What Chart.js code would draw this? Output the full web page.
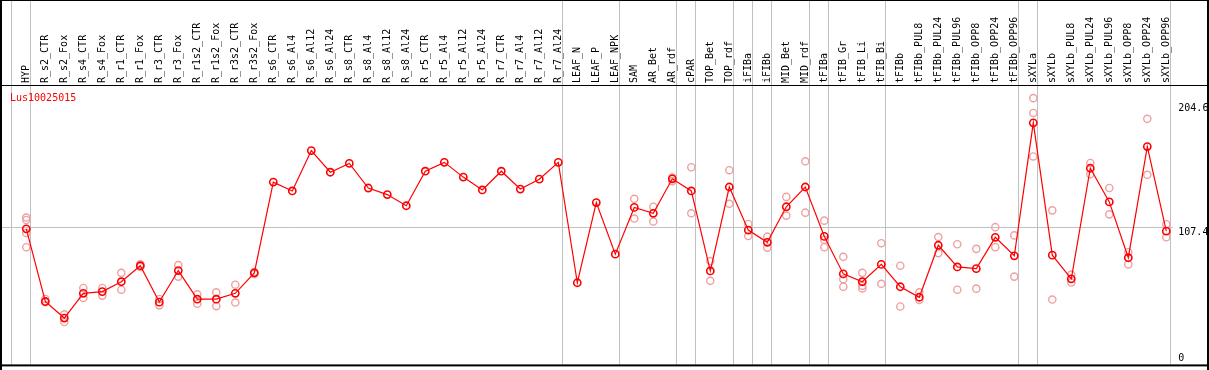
<!DOCTYPE html>
<html><head><meta charset="utf-8">
<script src="https://cdn.jsdelivr.net/npm/chart.js@4.4.1/dist/chart.umd.min.js"></script>
<style>html,body{margin:0;padding:0;background:#fff;}canvas{display:block;}</style>
</head><body>
<canvas id="c" width="1209" height="370"></canvas>
<script>
const seriesName = 'Lus10025015';
const categories = ['HYP','R_s2_CTR','R_s2_Fox','R_s4_CTR','R_s4_Fox','R_r1_CTR','R_r1_Fox','R_r3_CTR','R_r3_Fox','R_r1s2_CTR','R_r1s2_Fox','R_r3s2_CTR','R_r3s2_Fox','R_s6_CTR','R_s6_Al4','R_s6_Al12','R_s6_Al24','R_s8_CTR','R_s8_Al4','R_s8_Al12','R_s8_Al24','R_r5_CTR','R_r5_Al4','R_r5_Al12','R_r5_Al24','R_r7_CTR','R_r7_Al4','R_r7_Al12','R_r7_Al24','LEAF_N','LEAF_P','LEAF_NPK','SAM','AR_Bet','AR_rdf','cPAR','TOP_Bet','TOP_rdf','iFIBa','iFIBb','MID_Bet','MID_rdf','tFIBa','tFIB_Gr','tFIB_Li','tFIB_Bi','tFIBb','tFIBb_PUL8','tFIBb_PUL24','tFIBb_PUL96','tFIBb_OPP8','tFIBb_OPP24','tFIBb_OPP96','sXYLa','sXYLb','sXYLb_PUL8','sXYLb_PUL24','sXYLb_PUL96','sXYLb_OPP8','sXYLb_OPP24','sXYLb_OPP96'];
const meanValues = [105.6,49.0,36.1,55.4,56.7,64.4,76.9,48.5,73.1,50.8,50.8,55.4,71.3,142.0,135.1,166.6,149.7,156.6,137.4,132.3,123.6,150.5,157.4,145.9,135.9,150.5,136.6,144.3,157.4,63.6,126.1,85.9,122.3,117.7,144.6,135.1,72.8,138.2,104.6,95.1,122.8,138.2,99.7,70.5,64.4,77.9,60.5,52.3,92.8,75.9,74.6,99.0,84.6,188.2,85.1,66.7,152.8,126.6,83.1,169.7,103.8];
const replicates = [
  [114.4,112.5,102.3,91.3],[51.0,48.5],[39.0,33.0],[59.5,51.8],[59.5,53.6],[71.3,58.2],[78.0,76.0],[51.0,46.0],[77.4,68.4],[54.6,47.2],
  [56.1,45.4],[62.1,48.2],[72.0,70.5],[],[],[],[],[],[],[],
  [],[],[],[],[],[],[],[],[],[],
  [],[],[129.0,113.6],[122.8,111.3],[145.5,142.8],[153.6,117.7],[80.5,65.1],[151.3,125.1],[109.4,100.0],[99.5,91.0],
  [130.5,115.9],[158.2,118.2],[112.0,97.1,91.3],[83.8,66.4,60.5],[71.3,61.3,59.2],[94.4,62.8],[76.9,45.1],[56.1,50.2],[99.2,86.7],[93.6,58.2],
  [90.0,59.0],[106.9,91.3],[100.5,68.4],[207.4,195.9,162.0],[120.0,50.5],[70.0,63.8],[156.9,148.2],[137.4,116.9],[87.4,77.9],[191.3,147.7],
  [109.2,99.0]
];
const yTickValues = [0, 107.4, 204.6];
const groupEnds = [-1, 0, 28, 31, 34, 35, 37, 38, 39, 41, 42, 45, 52, 53, 60];

const replicatePoints = [];
replicates.forEach((vals, i) => vals.forEach(v => replicatePoints.push({x: categories[i], y: v})));

const FONT = '10px "DejaVu Sans Mono", monospace';

const decor = {
  id: 'decor',
  beforeDatasetsDraw(chart) {
    const {ctx, chartArea: a, scales: {x, y}} = chart;
    const p0 = x.getPixelForValue(0);
    const step = x.getPixelForValue(1) - p0;
    ctx.save();
    ctx.strokeStyle = '#c0c0c0';
    ctx.lineWidth = 1;
    const gy = Math.round(y.getPixelForValue(yTickValues[1])) + 0.5;
    ctx.beginPath(); ctx.moveTo(2, gy); ctx.lineTo(a.right - 2.8, gy); ctx.stroke();
    groupEnds.forEach(i => {
      const px = Math.round(p0 + step * (i + 0.21)) + 0.5;
      ctx.beginPath(); ctx.moveTo(px, 0); ctx.lineTo(px, a.bottom); ctx.stroke();
    });
    ctx.restore();
  },
  afterDraw(chart) {
    const {ctx, chartArea: a, scales: {y}, width, height} = chart;
    ctx.save();
    ctx.fillStyle = '#000';
    ctx.fillRect(0, 0, 2, height);
    ctx.fillRect(width - 2, 0, 2, height);
    ctx.fillRect(0, 0, width, 1);
    ctx.fillRect(0, a.top - 1, width, 1);
    ctx.fillRect(0, a.bottom, width, 2);
    ctx.font = FONT;
    ctx.textAlign = 'left';
    ctx.textBaseline = 'alphabetic';
    yTickValues.forEach(v => {
      const by = Math.min(y.getPixelForValue(v) + 8.8, a.bottom - 3.7);
      ctx.fillText(String(v), a.right + 2.5, by);
    });
    ctx.fillStyle = '#ff0000';
    ctx.fillText(seriesName, 10, a.top + 14.7);
    ctx.restore();
  }
};

new Chart(document.getElementById('c'), {
  type: 'line',
  data: {
    labels: categories,
    datasets: [
      {
        label: seriesName,
        data: meanValues,
        borderColor: '#ff0000',
        borderWidth: 1.2,
        pointStyle: 'circle',
        pointRadius: 3.6,
        pointBorderWidth: 1.6,
        pointBorderColor: '#ff0000',
        pointBackgroundColor: 'rgba(0,0,0,0)',
        tension: 0,
        fill: false
      },
      {
        label: seriesName + ' replicates',
        data: replicatePoints,
        showLine: false,
        pointStyle: 'circle',
        pointRadius: 3.6,
        pointBorderWidth: 1.4,
        pointBorderColor: '#f0a0a0',
        pointBackgroundColor: 'rgba(0,0,0,0)'
      }
    ]
  },
  options: {
    responsive: false,
    animation: false,
    devicePixelRatio: 1,
    layout: {padding: {left: 16.8, right: 33.2, top: 0, bottom: 2}},
    plugins: {legend: {display: false}, tooltip: {enabled: false}, title: {display: false}},
    scales: {
      x: {
        type: 'category',
        position: 'top',
        offset: true,
        grid: {display: false, drawTicks: false},
        border: {display: false},
        ticks: {
          autoSkip: false, minRotation: 90, maxRotation: 90, padding: 3, labelOffset: 12,
          color: '#000', font: {family: '"DejaVu Sans Mono", monospace', size: 10}
        },
        afterFit(s) { s.height = 86; }
      },
      y: {display: false, min: yTickValues[0], max: yTickValues[2] * 1.06}
    }
  },
  plugins: [decor]
});
</script>
</body></html>
